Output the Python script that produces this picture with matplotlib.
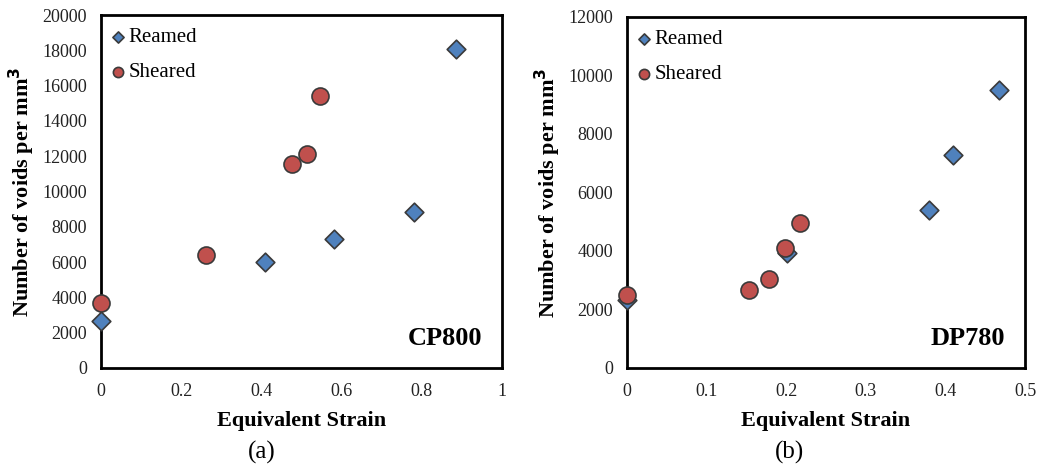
import matplotlib
matplotlib.use('Agg')
import matplotlib.pyplot as plt

plt.rcParams['font.family'] = ['Liberation Serif', 'DejaVu Serif']

# ---- data ----
cp_reamed_x = [0.0, 0.409, 0.58, 0.781, 0.885]
cp_reamed_y = [2680, 6020, 7320, 8850, 18080]
cp_sheared_x = [0.0, 0.263, 0.476, 0.514, 0.547]
cp_sheared_y = [3680, 6400, 11550, 12130, 15430]

dp_reamed_x = [0.0, 0.201, 0.379, 0.410, 0.467]
dp_reamed_y = [2340, 3930, 5390, 7280, 9500]
dp_sheared_x = [0.0, 0.153, 0.179, 0.199, 0.2176]
dp_sheared_y = [2500, 2667, 3054, 4100, 4957]

blue = '#4F81BD'
red = '#C0504D'
edge = '#3a3a3a'


def panel(ax, rx, ry, sx, sy, xmax, xstep, ymax, ystep, grade):
    ax.scatter(rx, ry, marker='D', s=90, color=blue, edgecolor=edge,
               linewidth=1.2, label='Reamed', zorder=3, clip_on=False)
    ax.scatter(sx, sy, marker='o', s=150, color=red, edgecolor=edge,
               linewidth=1.2, label='Sheared', zorder=4, clip_on=False)
    ax.set_xlim(0, xmax)
    ax.set_ylim(0, ymax)
    xt = [round(i * xstep, 2) for i in range(int(round(xmax / xstep)) + 1)]
    ax.set_xticks(xt)
    ax.set_xticklabels(['%g' % v for v in xt])
    ax.set_yticks(range(0, ymax + 1, ystep))
    ax.tick_params(length=0, labelsize=13, colors='#222222')
    ax.tick_params(axis='y', pad=10)
    ax.tick_params(axis='x', pad=11)
    for sp in ax.spines.values():
        sp.set_linewidth(2)
    ax.set_xlabel('Equivalent Strain', fontsize=16, fontweight='bold', labelpad=8)
    ax.set_ylabel('Number of voids per mm$^\\mathbf{3}$', fontsize=16,
                  fontweight='bold', labelpad=4)
    ax.text(0.95, 0.05, grade, transform=ax.transAxes, ha='right', va='bottom',
            fontsize=19, fontweight='bold')
    leg = ax.legend(loc='upper left', bbox_to_anchor=(-0.02, 1.0), frameon=False,
                    fontsize=15, handletextpad=-0.1, handlelength=1.2,
                    borderaxespad=0.2, labelspacing=0.75,
                    scatterpoints=1, markerscale=0.6)
    return leg


fig = plt.figure(figsize=(10.42, 4.68), dpi=100)
ax1 = fig.add_axes([0.0969, 0.2137, 0.385, 0.754])
ax2 = fig.add_axes([0.6017, 0.2137, 0.382, 0.750])

panel(ax1, cp_reamed_x, cp_reamed_y, cp_sheared_x, cp_sheared_y,
      1.0, 0.2, 20000, 2000, 'CP800')
panel(ax2, dp_reamed_x, dp_reamed_y, dp_sheared_x, dp_sheared_y,
      0.5, 0.1, 12000, 2000, 'DP780')

fig.text(262 / 1042, 1 - 452 / 468, '(a)', ha='center', va='center', fontsize=18)
fig.text(790 / 1042, 1 - 452 / 468, '(b)', ha='center', va='center', fontsize=18)

fig.savefig('out.png', dpi=100)
